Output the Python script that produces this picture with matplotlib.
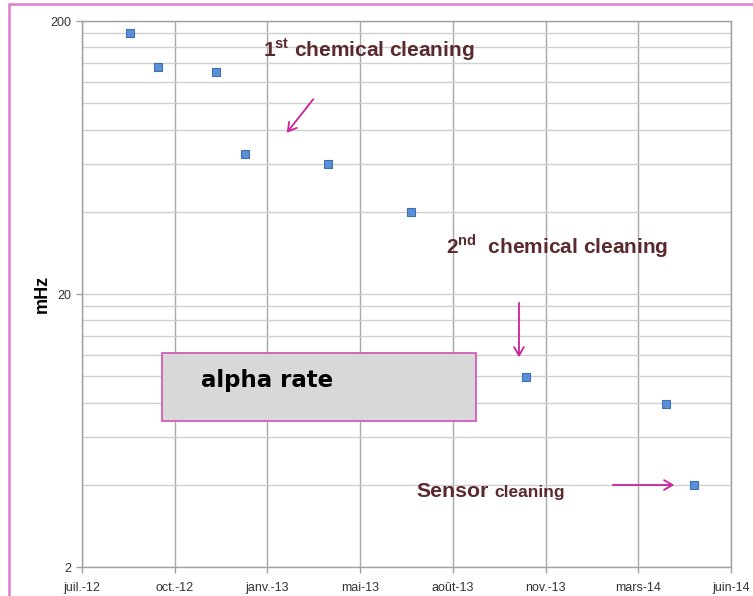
import matplotlib
matplotlib.use('Agg')
import matplotlib.pyplot as plt
from matplotlib.patches import Rectangle
from matplotlib.ticker import FixedLocator, NullFormatter

# x axis labels (equally spaced in the original chart)
months = ['juil.-12', 'oct.-12', 'janv.-13', 'mai-13', 'août-13',
          'nov.-13', 'mars-14', 'juin-14']
# measurement positions, in units of label spacing (0 = juil.-12)
x_pos = [0.52, 0.82, 1.44, 1.76, 2.65, 3.55, 4.79, 6.30, 6.60]
alpha_rate = [181, 136, 130, 65, 60, 40, 9.9, 7.9, 4.0]

y_major = [2, 20, 200]
y_minor = [4, 6, 8, 10, 12, 14, 16, 18, 40, 60, 80, 100, 120, 140, 160, 180]

W, H = 753, 596
def fp(x, y):
    # pixel -> figure fraction
    return (x / W, 1 - y / H)

plt.rcParams['font.family'] = ['Liberation Sans', 'DejaVu Sans']
plt.rcParams['mathtext.fontset'] = 'custom'
plt.rcParams['mathtext.rm'] = 'Liberation Sans:bold'
plt.rcParams['mathtext.bf'] = 'Liberation Sans:bold'

txt_col = '#5b2a2e'
arr_col = '#cc2299'
pink = '#e07ccf'

fig = plt.figure(figsize=(W / 100, H / 100), dpi=100)
ax = fig.add_axes([82 / W, 1 - 567 / H, (731 - 82) / W, (567 - 21) / H])

ax.set_yscale('log')
ax.set_ylim(2, 200)
ax.set_xlim(0, len(months) - 1)

ax.yaxis.set_major_locator(FixedLocator(y_major))
ax.yaxis.set_minor_locator(FixedLocator(y_minor))
ax.yaxis.set_minor_formatter(NullFormatter())
ax.set_yticklabels([str(v) for v in y_major])
ax.set_xticks(range(len(months)))
ax.set_xticklabels(months)

ax.grid(True, axis='x', color='#a8a8a8', lw=1.0)
ax.grid(True, axis='y', which='both', color='#cfcfcf', lw=1.0)
ax.set_axisbelow(True)

for s in ax.spines.values():
    s.set_color('#a0a0a0')
    s.set_linewidth(1.0)

ax.tick_params(axis='both', which='major', length=4.5, color='#a0a0a0',
               labelsize=9, labelcolor='#333333', width=1.0)
ax.tick_params(axis='y', which='minor', length=0)
ax.tick_params(axis='x', pad=6)

ax.plot(x_pos, alpha_rate, ls='none', marker='s', ms=5.5,
        mfc='#5b8fd6', mec='#3d6fb5', mew=0.8, zorder=5)

ax.set_ylabel('mHz', fontsize=13, fontweight='bold', va='center')
ax.yaxis.set_label_coords(-0.062, 0.5)

# alpha rate box
box = Rectangle(fp(162, 421), (476 - 162) / W, (421 - 353) / H,
                transform=fig.transFigure, facecolor='#d8d8d8',
                edgecolor='#d050b8', lw=1.2, zorder=6)
fig.patches.append(box)
fig.text(*fp(201, 387), 'alpha rate', fontsize=16.5, fontweight='bold',
         family='DejaVu Sans', color='black', va='baseline', zorder=7)

# annotations
fig.text(*fp(263, 57), r'1$^{\mathrm{st}}$ chemical cleaning', fontsize=15,
         fontweight='bold', color=txt_col, va='baseline')
fig.text(*fp(446, 253), r'2$^{\mathrm{nd}}$  chemical cleaning', fontsize=15,
         fontweight='bold', color=txt_col, va='baseline')
fig.text(*fp(416, 497), 'Sensor', fontsize=15.3, fontweight='bold',
         color=txt_col, va='baseline')
fig.text(*fp(494, 497), 'cleaning', fontsize=12.5, fontweight='bold',
         color=txt_col, va='baseline')

arrows = [((315, 97), (285, 135)), ((519, 300), (519, 360)),
          ((610, 485), (677, 485))]
for (x0, y0), (x1, y1) in arrows:
    fig.add_artist(matplotlib.patches.FancyArrowPatch(
        fp(x0, y0), fp(x1, y1), transform=fig.transFigure,
        arrowstyle='->,head_length=6,head_width=3.5', color=arr_col,
        lw=1.3, mutation_scale=1))

# outer pink frame
frame = Rectangle(fp(9, 640), 800 / W, (640 - 4) / H,
                  transform=fig.transFigure, fill=False, edgecolor=pink,
                  lw=1.8, clip_on=False)
fig.patches.append(frame)

plt.savefig('out.png', dpi=100)
